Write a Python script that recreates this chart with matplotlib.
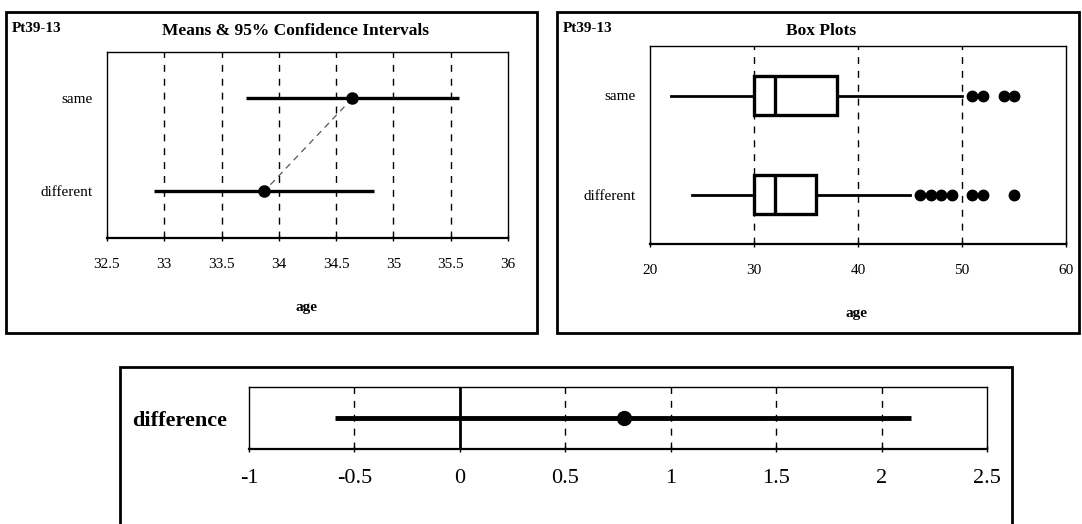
import matplotlib
matplotlib.use("Agg")
import matplotlib.pyplot as plt
from matplotlib.patches import Rectangle

plt.rcParams['font.family'] = ['Liberation Serif', 'DejaVu Serif']

groups = ['same', 'different']
ypos = [1.5, 0.5]

# means and 95% confidence intervals (age)
ci_mean = [34.64, 33.87]
ci_low = [33.71, 32.91]
ci_high = [35.57, 34.83]

# box plot summaries
whis_lo = [22, 24]
q1 = [30, 30]
med = [32, 32]
q3 = [38, 36]
whis_hi = [50, 45]
fliers = [[51, 52, 54, 55], [46, 47, 48, 49, 51, 52, 55]]

# difference of means
diff_mean = 0.78
diff_low = -0.59
diff_high = 2.14

ci_ticks = [32.5, 33, 33.5, 34, 34.5, 35, 35.5, 36]
box_ticks = [20, 30, 40, 50, 60]
diff_ticks = [-1, -0.5, 0, 0.5, 1, 1.5, 2, 2.5]

W, H = 1082, 524
fig = plt.figure(figsize=(W / 100, H / 100), dpi=100)


def fx(px):
    return px / W


def fy(py):
    return 1 - py / H


def frame(x0, y0, x1, y1):
    fig.patches.append(Rectangle((fx(x0), fy(y1)), fx(x1 - x0), (y1 - y0) / H,
                                 transform=fig.transFigure, fill=False,
                                 lw=2, ec='black'))


def style(ax, ticks, fs):
    ax.set_xticks(ticks)
    ax.set_xticklabels([f"{t:g}" for t in ticks], fontsize=fs)
    ax.tick_params(axis='x', direction='inout', length=5, width=1, pad=12)
    ax.tick_params(axis='y', length=0, pad=10)
    for s in ax.spines.values():
        s.set_linewidth(1)
    ax.spines['bottom'].set_linewidth(1.6)


# ---- left: means & CI
frame(6, 12, 537, 333)
ax1 = fig.add_axes([fx(107), fy(238), fx(508 - 107), (238 - 52) / H])
ax1.set_xlim(32.5, 36)
ax1.set_ylim(0, 2)
for t in ci_ticks[1:-1]:
    ax1.axvline(t, color='black', ls=(0, (5, 5)), lw=1, zorder=1)
ax1.plot(ci_mean, ypos, color='#555555', ls=(0, (5, 4)), lw=0.9, zorder=2)
ax1.hlines(ypos, ci_low, ci_high, color='black', lw=2.4, zorder=3)
ax1.plot(ci_mean, ypos, 'o', color='black', ms=8, zorder=4)
ax1.set_yticks(ypos)
ax1.set_yticklabels(groups, fontsize=11)
style(ax1, ci_ticks, 11)
fig.text(fx(12), fy(28), 'Pt39-13', fontsize=11, fontweight='bold', va='center')
fig.text(fx(295), fy(31), 'Means & 95% Confidence Intervals', fontsize=12.5,
         fontweight='bold', ha='center', va='center')
fig.text(fx(307), fy(307), 'age', fontsize=11, fontweight='bold', ha='center', va='center')

# ---- right: box plots
frame(557, 12, 1079, 333)
ax2 = fig.add_axes([fx(650), fy(244), fx(1066 - 650), (244 - 46) / H])
stats = []
for i, g in enumerate(groups):
    stats.append(dict(label=g, whislo=whis_lo[i], q1=q1[i], med=med[i],
                      q3=q3[i], whishi=whis_hi[i], fliers=fliers[i]))
for t in box_ticks[1:-1]:
    ax2.axvline(t, color='black', ls=(0, (5, 5)), lw=1, zorder=1)
ax2.bxp(stats, positions=ypos, widths=0.4, orientation='horizontal',
        showcaps=False, patch_artist=True,
        boxprops=dict(facecolor='white', edgecolor='black', lw=2.4),
        medianprops=dict(color='black', lw=2.4),
        whiskerprops=dict(color='black', lw=2),
        flierprops=dict(marker='o', markerfacecolor='black',
                        markeredgecolor='black', markersize=7.5))
ax2.set_xlim(20, 60)
ax2.set_ylim(0, 2)
ax2.set_yticks(ypos)
ax2.set_yticklabels(groups, fontsize=11)
style(ax2, box_ticks, 11)
fig.text(fx(563), fy(29), 'Pt39-13', fontsize=11, fontweight='bold', va='center')
fig.text(fx(821), fy(31), 'Box Plots', fontsize=12.5, fontweight='bold',
         ha='center', va='center')
fig.text(fx(857), fy(313), 'age', fontsize=11, fontweight='bold', ha='center', va='center')

# ---- bottom: difference
frame(120, 367, 1012, 530)
ax3 = fig.add_axes([fx(249), fy(449), fx(987 - 249), (449 - 387) / H])
ax3.set_xlim(-1, 2.5)
ax3.set_ylim(0, 1)
for t in diff_ticks[1:-1]:
    if t == 0:
        ax3.axvline(t, color='black', lw=2, zorder=1)
    else:
        ax3.axvline(t, color='black', ls=(0, (5, 5)), lw=1, zorder=1)
ax3.hlines([0.5], [diff_low], [diff_high], color='black', lw=3.5, zorder=3)
ax3.plot([diff_mean], [0.5], 'o', color='black', ms=10, zorder=4)
ax3.set_yticks([0.5])
ax3.set_yticklabels(['difference'], fontsize=16, fontweight='bold')
style(ax3, diff_ticks, 16)
ax3.tick_params(axis='y', pad=16)

fig.savefig('out.png', dpi=100)
